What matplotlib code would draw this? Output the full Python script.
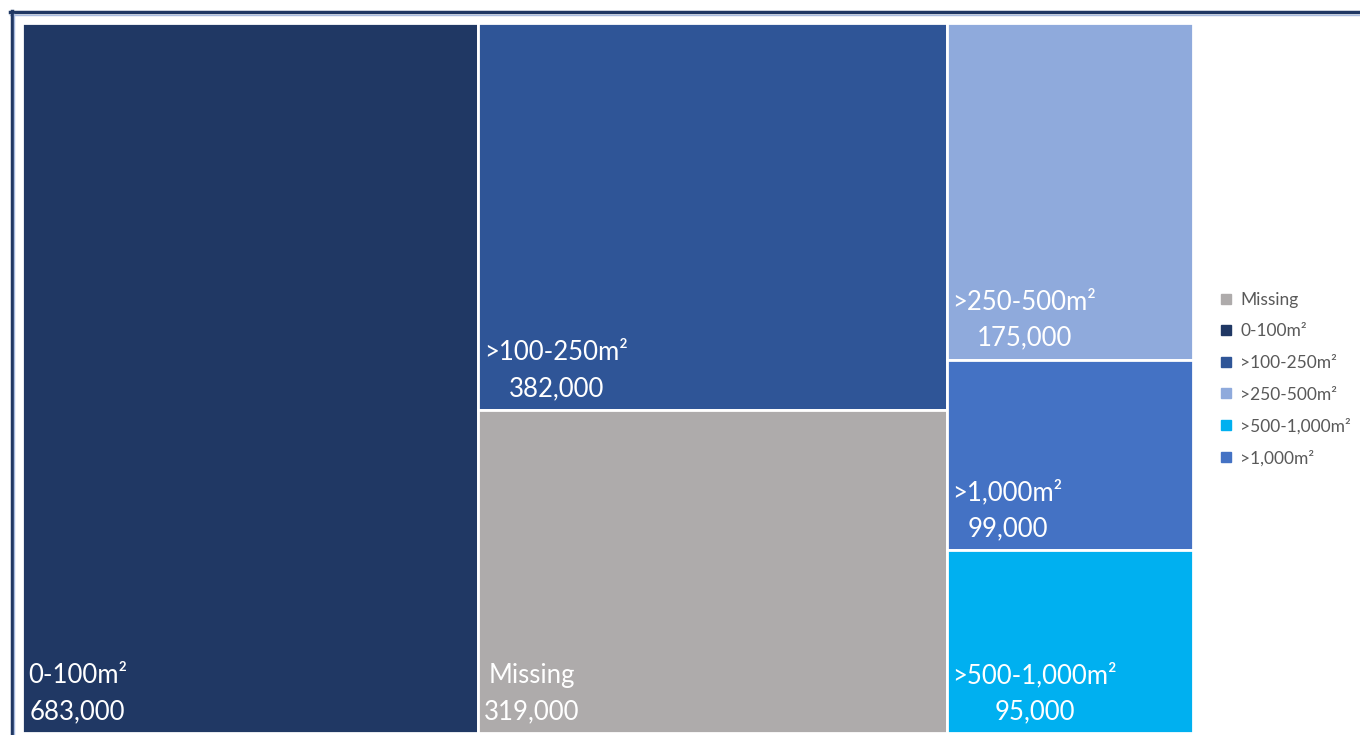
import matplotlib
matplotlib.use("Agg")
import matplotlib.pyplot as plt
from matplotlib.patches import Rectangle
from matplotlib.lines import Line2D

# floor area bands (treemap), sorted as in the chart
labels = ["0-100m²", ">100-250m²", "Missing", ">250-500m²", ">1,000m²", ">500-1,000m²"]
values = [683000, 382000, 319000, 175000, 99000, 95000]
colors = ["#203864", "#2F5597", "#AEABAB", "#8FAADC", "#4472C4", "#00B0F0"]

legend_labels = ["Missing", "0-100m²", ">100-250m²", ">250-500m²", ">500-1,000m²", ">1,000m²"]
legend_colors = ["#AEABAB", "#203864", "#2F5597", "#8FAADC", "#00B0F0", "#4472C4"]

plt.rcParams['font.family'] = ['Lato', 'DejaVu Sans']

W, H = 1171.0, 710.0


def worst(row, side):
    s = sum(row)
    return max(max(side * side * r / (s * s), s * s / (side * side * r)) for r in row)


def squarify(vals, x, y, w, h):
    # squarified treemap, y measured downward from the top
    rects = []
    vals = list(vals)
    while vals:
        side = min(w, h)
        row = [vals.pop(0)]
        while vals and worst(row + [vals[0]], side) <= worst(row, side):
            row.append(vals.pop(0))
        s = sum(row)
        if w >= h:
            rw = s / h
            yy = y
            for r in row:
                rh = r / rw
                rects.append((x, yy, rw, rh))
                yy += rh
            x += rw
            w -= rw
        else:
            rh = s / w
            xx = x
            for r in row:
                rw2 = r / rh
                rects.append((xx, y, rw2, rh))
                xx += rw2
            y += rh
            h -= rh
    return rects


total = sum(values)
areas = [v / total * W * H for v in values]
rects = squarify(areas, 0, 0, W, H)

fig = plt.figure(figsize=(13.6, 7.35), dpi=100)
ax = fig.add_axes([22 / 1360, 2 / 735, W / 1360, H / 735])
ax.set_xlim(0, W)
ax.set_ylim(H, 0)
ax.axis("off")

for (x, y, w, h), lab, val, c in zip(rects, labels, values, colors):
    ax.add_patch(Rectangle((x, y), w, h, facecolor=c, edgecolor="white", linewidth=2))
    ax.text(x + 6, y + h - 9, "%s\n%s" % (lab, format(val, ",")), color="white",
            fontsize=18.5, ha="left", va="bottom", multialignment="center",
            linespacing=1.55)

# legend
leg_handles = [Line2D([], [], marker="s", linestyle="none", markersize=7.5,
                      markerfacecolor=c, markeredgecolor=c) for c in legend_colors]
leg = fig.legend(leg_handles, legend_labels, loc="upper left",
                 bbox_to_anchor=(1203 / 1360, 1 - 276 / 735), frameon=False,
                 fontsize=12.5, handlelength=0.8, handletextpad=0.45,
                 labelspacing=0.9, labelcolor="#595959")

# outer frame (top and left edges visible)
fig.add_artist(Line2D([10 / 1360, 1], [1 - 12 / 735] * 2, color="#203864", lw=2.5))
fig.add_artist(Line2D([10 / 1360, 1], [1 - 14.5 / 735] * 2, color="#A9BCE0", lw=1))
fig.add_artist(Line2D([11.5 / 1360] * 2, [0, 1 - 11 / 735], color="#203864", lw=2.5))
fig.add_artist(Line2D([14 / 1360] * 2, [0, 1 - 14 / 735], color="#A9BCE0", lw=1))

fig.savefig("out.png", dpi=100)
